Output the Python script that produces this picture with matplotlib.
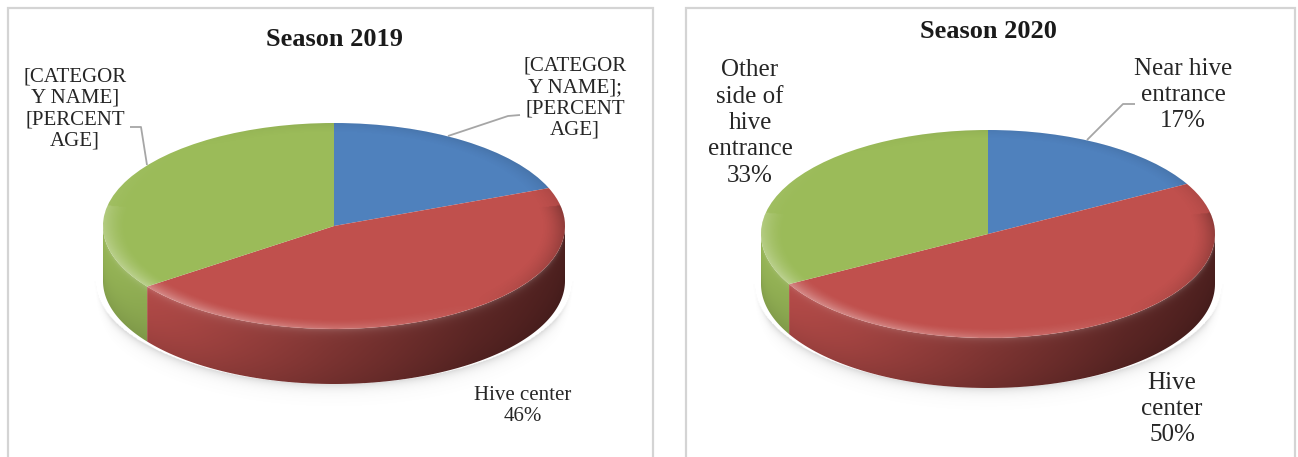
import numpy as np
import matplotlib
matplotlib.use("Agg")
import matplotlib.pyplot as plt
from matplotlib.patches import Rectangle, Polygon, Circle
from matplotlib.colors import to_rgb

# ---- data -------------------------------------------------------------
locations = ["Near hive entrance", "Hive center", "Other side of hive entrance"]
share_2019 = [19, 46, 35]
share_2020 = [17, 50, 33]
slice_colors = ["#4f81bd", "#c0504d", "#9bbb59"]

titles = ["Season 2019", "Season 2020"]
labels_2019 = ["[CATEGOR\nY NAME];\n[PERCENT\nAGE]",
               f"{locations[1]}\n{share_2019[1]}%",
               "[CATEGOR\nY NAME]\n[PERCENT\nAGE]"]
labels_2020 = ["Near hive\nentrance\n" + f"{share_2020[0]}%",
               "Hive\ncenter\n" + f"{share_2020[1]}%",
               "Other\nside of\nhive\nentrance\n" + f"{share_2020[2]}%"]

W, H = 1298, 457
fig = plt.figure(figsize=(W / 100, H / 100), dpi=100)
fig.patch.set_facecolor("white")

SERIF = ["Liberation Serif", "DejaVu Serif"]

# background layer in pixel coordinates (panels, titles, labels)
bg = fig.add_axes([0, 0, 1, 1], zorder=0)
bg.set_xlim(0, W)
bg.set_ylim(H, 0)
bg.axis("off")

for x0, w in [(8, 645), (686, 609)]:
    bg.add_patch(Rectangle((x0, 8), w, 470, facecolor="white",
                           edgecolor="#d4d4d4", lw=1.6))


def draw_pie(values, cx, cy, rx, ry, depth_px):
    d = depth_px / ry
    pad = 0.1
    bot_extra = d + 0.3
    x0 = cx - (1 + pad) * rx
    x1 = cx + (1 + pad) * rx
    ytop = cy - (1 + pad) * ry
    ybot = cy + (1 + bot_extra) * ry
    ax = fig.add_axes([x0 / W, 1 - ybot / H, (x1 - x0) / W, (ybot - ytop) / H],
                      zorder=1)
    wedges, _ = ax.pie(values, colors=slice_colors, startangle=90,
                       counterclock=False, radius=1, center=(0, 0),
                       wedgeprops=dict(linewidth=0, zorder=5))
    ax.set_aspect("auto")
    ax.set_xlim(-(1 + pad), 1 + pad)
    ax.set_ylim(-(1 + bot_extra), 1 + pad)
    ax.axis("off")

    # soft ground shadow just below the lower outline of the disc
    gx = np.linspace(-1.05, 1.05, 500)
    gy = np.linspace(-(1 + bot_extra), -0.3, 300)
    GX, GY = np.meshgrid(gx, gy)
    xs = np.clip(GX / 1.03, -1, 1)
    yb = -np.sqrt(1 - xs ** 2) - d
    below = np.clip(yb - GY, 0, None)
    edge_fade = np.clip((1.04 - np.abs(GX)) / 0.08, 0, 1)
    a = 0.30 * np.exp(-below / 0.05) * (GY < yb) * edge_fade
    sh = np.zeros(GX.shape + (4,))
    sh[..., :3] = 0.5
    sh[..., 3] = a
    ax.imshow(sh, extent=[gx[0], gx[-1], gy[0], gy[-1]], origin="lower",
              aspect="auto", zorder=1, interpolation="bilinear")

    # side walls of the front half, one per slice
    total = float(sum(values))
    bounds = [90.0]
    for v in values:
        bounds.append(bounds[-1] - 360.0 * v / total)
    sx = np.linspace(-1, 1, 500)
    sy = np.linspace(-1 - d, 0, 200)
    SX, SY = np.meshgrid(sx, sy)
    top_curve = -np.sqrt(np.clip(1 - SX ** 2, 0, 1))
    vfrac = np.clip((top_curve - SY) / d, 0, 1)
    bright = np.interp(SX, [-1, -0.6, 0, 0.6, 1], [0.97, 0.86, 0.66, 0.48, 0.40])
    rim = 1 + 0.28 * np.exp(-vfrac / 0.07)
    bottom_dark = 1 - 0.12 * vfrac ** 2
    for i, v in enumerate(values):
        hi, lo = bounds[i], bounds[i + 1]
        for s in (-360, 0, 360):
            a0, a1 = max(lo + s, -180), min(hi + s, 0)
            if a1 <= a0:
                continue
            t = np.radians(np.linspace(a0, a1, 120))
            top = np.column_stack([np.cos(t), np.sin(t)])
            bottom = np.column_stack([np.cos(t), np.sin(t) - d])[::-1]
            poly = Polygon(np.vstack([top, bottom]), closed=True,
                           facecolor="none", edgecolor="none")
            ax.add_patch(poly)
            base = np.array(to_rgb(slice_colors[i]))
            f = bright * bottom_dark
            img = base[None, None, :] * f[..., None]
            lift = np.clip(rim - 1, 0, None)[..., None]
            img = img + (1 - img) * lift * 0.6
            im = ax.imshow(np.clip(img, 0, 1), extent=[-1, 1, -1 - d, 0],
                           origin="lower", aspect="auto", zorder=3,
                           interpolation="bilinear")
            im.set_clip_path(poly)

    # bevel light/shadow around the rim of the top face
    bx = np.linspace(-1, 1, 500)
    by = np.linspace(-1, 1, 300)
    BX, BY = np.meshgrid(bx, by)
    r = np.sqrt(BX ** 2 + BY ** 2)
    phi = np.arctan2(BY, BX)
    light = 0.55 * (-np.cos(phi)) + 0.45 * (-np.sin(phi))
    light = np.where(np.sin(phi) > 0.2, light * 0.3, light)
    ramp = np.clip((r - 0.9) / 0.1, 0, 1) ** 1.6
    ov = np.zeros(BX.shape + (4,))
    ov[..., :3] = np.where(light[..., None] > 0, 1.0, 0.0)
    ov[..., 3] = np.clip(np.abs(light) * ramp * 0.45, 0, 1)
    im = ax.imshow(ov, extent=[-1, 1, -1, 1], origin="lower", aspect="auto",
                   zorder=6, interpolation="bilinear")
    clip = Circle((0, 0), 1, transform=ax.transData, facecolor="none",
                  edgecolor="none")
    ax.add_patch(clip)
    im.set_clip_path(clip)
    return ax


draw_pie(share_2019, cx=334, cy=226, rx=231, ry=103, depth_px=55)
draw_pie(share_2020, cx=988, cy=234, rx=227, ry=104, depth_px=50)

# titles
bg.text(335, 40, titles[0], ha="center", va="center", fontsize=19,
        fontweight="bold", family=SERIF, color="#1a1a1a")
bg.text(988, 31, titles[1], ha="center", va="center", fontsize=19,
        fontweight="bold", family=SERIF, color="#1a1a1a")

# data labels, season 2019
lab_kw = dict(ha="center", va="center", family=SERIF, color="#262626",
              multialignment="center")
bg.text(575, 98, labels_2019[0], fontsize=15, linespacing=1.18, **lab_kw)
bg.text(523, 406, labels_2019[1], fontsize=15, linespacing=1.18, **lab_kw)
bg.text(75, 109, labels_2019[2], fontsize=15, linespacing=1.18, **lab_kw)

# data labels, season 2020
bg.text(1183, 95, labels_2020[0], fontsize=18, linespacing=1.25, **lab_kw)
bg.text(1172, 409, labels_2020[1], fontsize=18, linespacing=1.25, **lab_kw)
bg.text(750, 123, labels_2020[2], fontsize=18, linespacing=1.25, **lab_kw)

# leader lines
lead_kw = dict(color="#a6a6a6", lw=1.3, solid_capstyle="butt")
bg.plot([448, 508, 520], [136, 116, 115], **lead_kw)
bg.plot([130, 141, 147], [127, 127, 165], **lead_kw)
bg.plot([1087, 1123, 1135], [140, 104, 104], **lead_kw)

fig.savefig("out.png", dpi=100, facecolor="white")
